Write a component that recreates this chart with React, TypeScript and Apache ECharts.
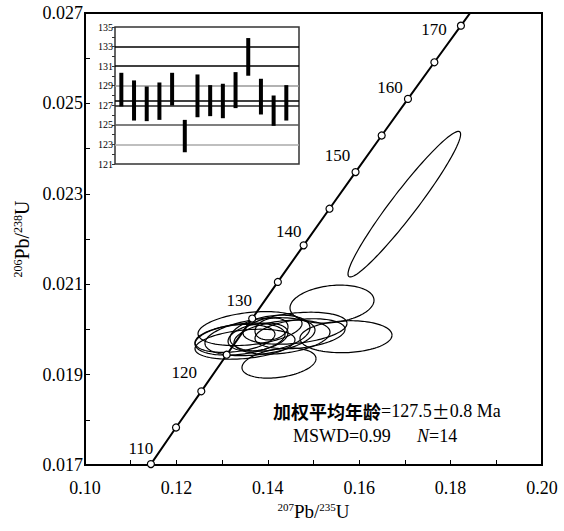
import React, { useEffect, useRef } from 'react';
import * as echarts from 'echarts';

// ---- Concordia ----
const concordiaAges = [110, 115, 120, 125, 130, 135, 140, 145, 150, 155, 160, 165, 170];
const concordiaX = [0.11442, 0.11992, 0.12545, 0.131, 0.13659, 0.1422, 0.14784, 0.1535, 0.1592, 0.16492, 0.17067, 0.17645, 0.18226];
const concordiaY = [0.01702, 0.01783, 0.01863, 0.01944, 0.02024, 0.02105, 0.02186, 0.02267, 0.02348, 0.02429, 0.0251, 0.02591, 0.02672];
const concordiaStart = [0.11293, 0.0168];
const concordiaEnd = [0.1857, 0.0272];
const labeledAges = [110, 120, 130, 140, 150, 160, 170];

// ---- Error ellipses: centre, half-extent in x and y, correlation ----
const ellipseX = [0.16987, 0.15405, 0.14245, 0.15711, 0.13611, 0.13829, 0.13392, 0.14311, 0.14595, 0.14048, 0.13786, 0.14081, 0.14705, 0.13501, 0.13282];
const ellipseY = [0.02277, 0.02056, 0.019254, 0.019838, 0.020018, 0.019839, 0.019785, 0.019828, 0.020026, 0.019917, 0.019831, 0.02001, 0.019904, 0.019672, 0.019801];
const ellipseSX = [0.01232, 0.00919, 0.0081, 0.01007, 0.01138, 0.01204, 0.00985, 0.0105, 0.01138, 0.00875, 0.00656, 0.00361, 0.00985, 0.01094, 0.00875];
const ellipseSY = [0.00161, 0.00042, 0.000332, 0.000354, 0.000376, 0.00042, 0.000354, 0.000376, 0.000354, 0.000398, 0.00031, 0.000243, 0.000332, 0.000332, 0.00031];
const ellipseRho = [0.96, 0.2, 0.3, 0.1, 0.3, 0.35, 0.3, 0.3, 0.3, 0.3, 0.3, 0.2, 0.3, 0.3, 0.3];

// ---- Inset: weighted-mean age bars ----
const insetSpot = [1, 2, 3, 4, 5, 6, 7, 8, 9, 10, 11, 12, 13, 14];
const insetLow = [126.88, 125.44, 125.38, 125.51, 126.98, 122.2, 125.78, 125.89, 125.68, 126.71, 130.02, 126.06, 124.9, 125.44];
const insetHigh = [130.32, 129.54, 128.92, 129.33, 130.32, 125.51, 130.15, 129.06, 129.2, 130.39, 133.87, 129.71, 128.0, 129.06];
const insetLines = [123, 125, 127, 127.5, 129, 131, 133];
const insetTickLabels = ['121', '123', '125', '127', '129', '131', '133', '135'];

// ---- Axis tick labels ----
const xTickLabels = ['0.10', '0.12', '0.14', '0.16', '0.18', '0.20'];
const yTickLabels = ['0.017', '0.019', '0.021', '0.023', '0.025', '0.027'];

// ---- Statistics ----
const meanAge = '127.5';
const meanErr = '0.8';
const mswd = '0.99';
const nSpots = '14';

const SERIF = '"Liberation Serif", "Times New Roman", serif';
const CJK = '"Noto Sans CJK SC", sans-serif';

const labelOffsets: Record<number, number[]> = {
  110: [-10, -16], 120: [-17, -19], 130: [-13, -18], 140: [-15, -14], 150: [-18, -17], 160: [-18, -11], 170: [-27, 4],
};
const insetLineColors = ['#aaa', '#555', '#222', '#000', '#999', '#000', '#000'];

export default function App() {
  const ref = useRef<HTMLDivElement>(null);
  useEffect(() => {
    if (!ref.current) return;
    const chart = echarts.init(ref.current, null, { renderer: 'svg' });

    const concordiaLine = [concordiaStart, ...concordiaX.map((x, i) => [x, concordiaY[i]]), concordiaEnd];
    const concordiaPts = concordiaX.map((x, i) => {
      const age = concordiaAges[i];
      const lab = labeledAges.includes(age);
      return {
        value: [x, concordiaY[i]],
        label: lab
          ? { show: true, formatter: String(age), position: 'inside', offset: labelOffsets[age], color: '#000', fontFamily: SERIF, fontSize: 17 }
          : { show: false },
      };
    });
    const ellipses = ellipseX.map((x, i) => [x, ellipseY[i], ellipseSX[i], ellipseSY[i], ellipseRho[i]]);
    const bars = insetSpot.map((s, i) => [s, insetLow[i], insetHigh[i]]);

    const supRich = (main: number, sup: number) => ({
      n: { fontSize: main, fontFamily: SERIF, color: '#000' },
      s: { fontSize: sup, fontFamily: SERIF, color: '#000', verticalAlign: 'top' },
    });

    const option: any = {
      animation: false,
      backgroundColor: '#fff',
      grid: [
        { left: 85, top: 13, width: 457, height: 452, show: true, borderColor: '#000', borderWidth: 2, backgroundColor: 'transparent' },
        { left: 115, top: 27, width: 184, height: 137, show: true, borderColor: '#333', borderWidth: 1.5, backgroundColor: '#fff', z: 3 },
      ],
      xAxis: [
        {
          gridIndex: 0, type: 'value', min: 0.1, max: 0.2, interval: 0.01,
          axisLine: { show: false },
          axisTick: { show: true, inside: true, length: 5, lineStyle: { color: '#000', width: 1 } },
          splitLine: { show: false },
          axisLabel: {
            margin: 14, color: '#000', fontFamily: SERIF, fontSize: 18,
            formatter: (v: number) => (xTickLabels.includes(v.toFixed(2)) ? v.toFixed(2) : ''),
          },
          name: '{s|207}{n|Pb/}{s|235}{n|U}', nameLocation: 'middle', nameGap: 33,
          nameTextStyle: { rich: supRich(19, 11) },
        },
        { gridIndex: 1, type: 'value', min: 0.5, max: 15, show: false },
      ],
      yAxis: [
        {
          gridIndex: 0, type: 'value', min: 0.017, max: 0.027, interval: 0.001,
          axisLine: { show: false },
          axisTick: { show: true, inside: true, length: 5, lineStyle: { color: '#000', width: 1 } },
          splitLine: { show: false },
          axisLabel: {
            margin: 2, color: '#000', fontFamily: SERIF, fontSize: 18,
            formatter: (v: number) => (yTickLabels.includes(v.toFixed(3)) ? v.toFixed(3) : ''),
          },
          name: '{s|206}{n|Pb/}{s|238}{n|U}', nameLocation: 'middle', nameGap: 48, nameRotate: 90,
          nameTextStyle: { rich: supRich(20, 12) },
        },
        {
          gridIndex: 1, type: 'value', min: 121, max: 135, interval: 1, z: 4,
          axisLine: { show: false },
          axisTick: { show: true, inside: false, length: 3, lineStyle: { color: '#333', width: 1 } },
          splitLine: { show: false },
          axisLabel: {
            margin: 2, color: '#000', fontFamily: SERIF, fontSize: 10,
            formatter: (v: number) => (insetTickLabels.includes(String(Math.round(v))) && Math.abs(v - Math.round(v)) < 1e-6 ? String(Math.round(v)) : ''),
          },
        },
      ],
      series: [
        {
          type: 'custom', xAxisIndex: 0, yAxisIndex: 0, z: 2,
          data: ellipses, encode: { x: 0, y: 1 },
          renderItem: (params: any, api: any) => {
            const cx = api.value(0), cy = api.value(1), sx = api.value(2), sy = api.value(3), r = api.value(4);
            const q = Math.sqrt(1 - r * r);
            const pts: number[][] = [];
            for (let k = 0; k <= 120; k++) {
              const t = (k / 120) * Math.PI * 2;
              const c = Math.cos(t), s = Math.sin(t);
              pts.push(api.coord([cx + sx * c, cy + sy * (r * c + q * s)]));
            }
            return { type: 'polyline', shape: { points: pts }, style: { fill: 'none', stroke: '#000', lineWidth: 1.2 } };
          },
        },
        {
          type: 'line', xAxisIndex: 0, yAxisIndex: 0, z: 4, data: concordiaLine,
          showSymbol: false, symbol: 'none', lineStyle: { color: '#000', width: 2 }, clip: true,
        },
        {
          type: 'scatter', xAxisIndex: 0, yAxisIndex: 0, z: 5, data: concordiaPts,
          symbol: 'circle', symbolSize: 7,
          itemStyle: { color: '#fff', borderColor: '#000', borderWidth: 1.2, opacity: 1 },
        },
        {
          type: 'custom', xAxisIndex: 1, yAxisIndex: 1, z: 6,
          data: bars, encode: { x: 0, y: [1, 2] },
          renderItem: (params: any, api: any) => {
            const x = api.value(0), lo = api.value(1), hi = api.value(2);
            const p1 = api.coord([x, hi]);
            const p2 = api.coord([x, lo]);
            return { type: 'rect', shape: { x: p1[0] - 2, y: p1[1], width: 4, height: p2[1] - p1[1] }, style: { fill: '#000' } };
          },
          markLine: {
            silent: true, symbol: 'none', z: 4, label: { show: false },
            data: insetLines.map((v, i) => ({ yAxis: v, lineStyle: { color: insetLineColors[i], width: 1.6, type: 'solid' } })),
          },
        },
      ],
      graphic: [
        {
          type: 'text', left: 273, top: 402, z: 10,
          style: {
            text: `{cn|加权平均年龄}{t|=${meanAge}}{pm|±}{t|${meanErr} Ma}`,
            rich: {
              cn: { fontFamily: CJK, fontSize: 18, fontWeight: 'bold', fill: '#000' },
              pm: { fontFamily: CJK, fontSize: 18, fill: '#000' },
              t: { fontFamily: SERIF, fontSize: 18, fill: '#000' },
            },
          },
        },
        {
          type: 'text', left: 293, top: 427, z: 10,
          style: { text: `MSWD=${mswd}`, font: `18px ${SERIF}`, fill: '#000' },
        },
        {
          type: 'text', left: 417, top: 427, z: 10,
          style: {
            text: `{i|N}{t|=${nSpots}}`,
            rich: {
              i: { fontFamily: SERIF, fontSize: 18, fontStyle: 'italic', fill: '#000' },
              t: { fontFamily: SERIF, fontSize: 18, fill: '#000' },
            },
          },
        },
      ],
    };
    chart.setOption(option);
    return () => chart.dispose();
  }, []);
  return <div ref={ref} style={{ position: 'fixed', left: 0, top: 0, width: 564, height: 531, background: '#fff' }} />;
}
